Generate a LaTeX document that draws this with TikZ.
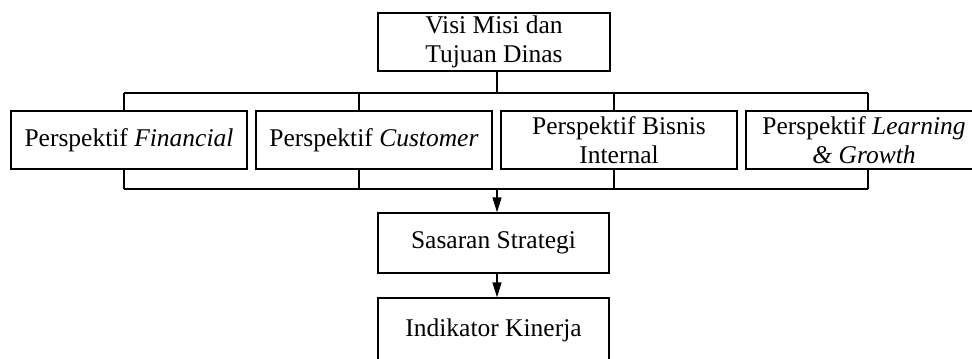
\documentclass[tikz,border=0pt]{standalone}
\usepackage{fontspec}
\setmainfont{Liberation Serif}
\usetikzlibrary{arrows.meta}
\begin{document}
\begin{tikzpicture}[x=0.5pt,y=-0.5pt,
  box/.style={draw,line width=0.65pt,rectangle,inner sep=0pt,align=center,
    font=\fontsize{12.75pt}{14.5pt}\selectfont},
  wbox/.style={box,minimum width=118pt,minimum height=29pt},
  link/.style={line width=0.65pt},
  arr/.style={line width=0.65pt,-{Triangle[width=4.5pt,length=7.5pt]}}]
\useasboundingbox (0,0) rectangle (972,358);
\clip (0,0) rectangle (972,358);
% boxes
\node[box,minimum width=116pt,minimum height=29pt] (top) at (494,42) {Visi Misi dan\\Tujuan Dinas};
\node[wbox] (fin) at (129,140) {Perspektif \textit{Financial}};
\node[wbox] (cus) at (374,140) {Perspektif \textit{Customer}};
\node[wbox] (bis) at (619,140) {Perspektif Bisnis\\Internal};
\node[wbox] (lea) at (864,140) {Perspektif \textit{Learning}\\\textit{\&~Growth}};
\node[box,minimum width=115.5pt,minimum height=30pt] (sas) at (493.5,243) {Sasaran Strategi};
\node[box,minimum width=115.5pt,minimum height=32pt] (ind) at (493.5,330) {\raisebox{0.75pt}{Indikator Kinerja}};
% bus coordinates
\coordinate (jt) at (497,93);
\coordinate (c1) at (124,93);
\coordinate (c2) at (359,93);
\coordinate (c3) at (614,93);
\coordinate (c4) at (868,93);
\coordinate (d1) at (124,189);
\coordinate (d2) at (359,189);
\coordinate (d3) at (614,189);
\coordinate (d4) at (868,189);
\coordinate (jb) at (497,189);
% top bus
\draw[link] (top.south -| jt) -- (jt);
\draw[link] (c1) -- (c4);
\draw[link] (c1) -- (fin.north -| c1);
\draw[link] (c2) -- (cus.north -| c2);
\draw[link] (c3) -- (bis.north -| c3);
\draw[link] (c4) -- (lea.north -| c4);
% bottom bus
\draw[link] (d1) -- (d4);
\draw[link] (fin.south -| d1) -- (d1);
\draw[link] (cus.south -| d2) -- (d2);
\draw[link] (bis.south -| d3) -- (d3);
\draw[link] (lea.south -| d4) -- (d4);
% arrows
\draw[arr] (jb) -- (sas.north -| jb);
\draw[arr] (sas.south -| jb) -- (ind.north -| jb);
\end{tikzpicture}
\end{document}
